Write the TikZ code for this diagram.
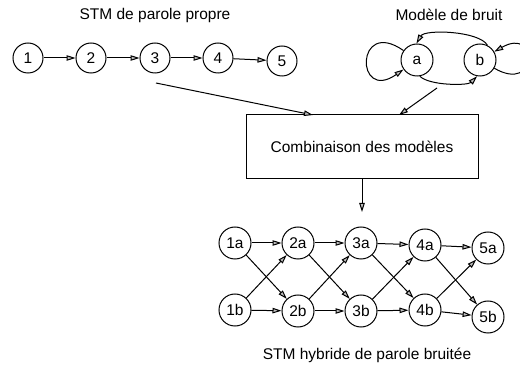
\documentclass[tikz,border=0pt]{standalone}
\usepackage{fontspec}
\setmainfont{Liberation Sans}
\usetikzlibrary{arrows.meta}
\begin{document}
\begin{tikzpicture}[x=1pt,y=1pt,line width=1pt,
    every node/.style={font=\fontsize{15.5}{18}\selectfont},
    state/.style={draw,circle,minimum size=30pt,inner sep=0pt},
    hstate/.style={state,minimum size=32pt},
    >={Triangle[length=9pt,width=5.5pt,fill=gray!50]}]
  \useasboundingbox (0,0) rectangle (520,-374);
  \draw
    (155,-15) node (t1){STM de parole propre}
    (449,-15) node (t2){Modèle de bruit}
    (367,-355) node (t3){STM hybride de parole bruitée};
  \draw
    (28,-58) node[state] (1){1}
    (91,-58) node[state] (2){2}
    (155,-58) node[state] (3){3}
    (218,-58) node[state] (4){4}
    (282,-61) node[state] (5){5}
    (417,-60) node[hstate] (a){a}
    (480,-60) node[hstate] (b){b};
  \draw (362,-147) node[draw,minimum width=232pt,minimum height=64pt] (box){Combinaison des modèles};
  \draw
    (235,-243) node[hstate] (1a){1a}
    (298,-243) node[hstate] (2a){2a}
    (361,-243) node[hstate] (3a){3a}
    (425,-245) node[hstate] (4a){4a}
    (488,-248) node[hstate] (5a){5a}
    (235,-310) node[hstate] (1b){1b}
    (298,-311) node[hstate] (2b){2b}
    (361,-311) node[hstate] (3b){3b}
    (425,-310) node[hstate] (4b){4b}
    (488,-317) node[hstate] (5b){5b};
  \coordinate (s3) at (156,-83);
  \coordinate (sn) at (437,-88);
  \coordinate (e3) at (313,-115);
  \coordinate (en) at (399,-115);
  \coordinate (dn) at (362,-212);
  \begin{scope}[->]
    \draw (1) to (2);
    \draw (2) to (3);
    \draw (3) to (4);
    \draw (4) to (5);
    \draw (a) to[out=145,in=215,looseness=8,min distance=45pt] (a);
    \draw (b) to[out=-30,in=30,looseness=8,min distance=45pt] (b);
    \draw (b.63) to[out=120,in=60,looseness=0.6] (a.92);
    \draw (a.-80) to[out=-45,in=-135,looseness=0.6] (b.-100);
    \draw (s3) to (e3);
    \draw (sn) to (en);
    \draw (box) to (dn);
    \draw (1a) to (2a);
    \draw (2a) to (3a);
    \draw (3a) to (4a);
    \draw (4a) to (5a);
    \draw (1b) to (2b);
    \draw (2b) to (3b);
    \draw (3b) to (4b);
    \draw (4b) to (5b);
    \draw (1a) to (2b);
    \draw (2a) to (3b);
    \draw (3a) to (4b);
    \draw (4a) to (5b);
    \draw (1b) to (2a);
    \draw (2b) to (3a);
    \draw (3b) to (4a);
    \draw (4b) to (5a);
  \end{scope}
\end{tikzpicture}
\end{document}
